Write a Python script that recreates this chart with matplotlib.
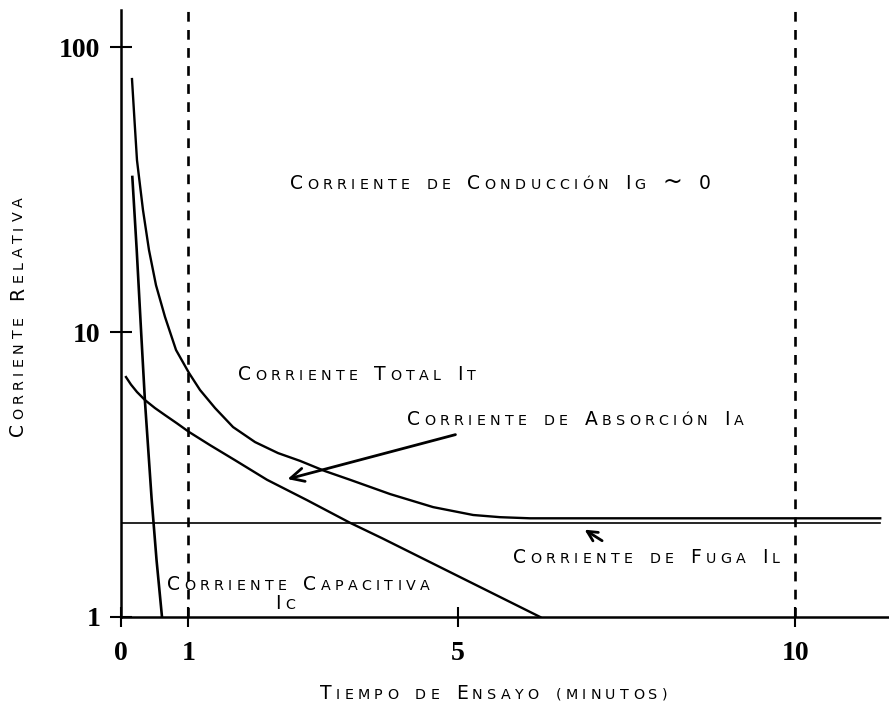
import matplotlib
matplotlib.use("Agg")
import matplotlib.pyplot as plt
from matplotlib.ticker import NullLocator

# curves: time in minutes, relative current (log axis)
t_total = [0.163, 0.200, 0.237, 0.326, 0.415, 0.519, 0.653, 0.816, 1.009, 1.172,
           1.395, 1.662, 1.988, 2.329, 2.656, 3.027, 3.398, 3.991, 4.629, 5.223,
           5.623, 6.068, 6.51, 11.26]
i_total = [77.2, 55.4, 40.1, 26.8, 19.4, 14.6, 11.29, 8.65, 7.18, 6.26,
           5.41, 4.64, 4.11, 3.76, 3.53, 3.25, 3.03, 2.70, 2.43, 2.28,
           2.24, 2.22, 2.22, 2.22]

t_absorb = [0.074, 0.148, 0.237, 0.356, 0.504, 0.653, 0.831, 1.009, 1.320, 1.691,
            2.166, 2.760, 3.398, 3.872, 5.030, 6.217]
i_absorb = [6.95, 6.54, 6.16, 5.77, 5.41, 5.11, 4.78, 4.46, 4.01, 3.55,
            3.03, 2.57, 2.14, 1.89, 1.38, 1.0]

t_capac = [0.168, 0.233, 0.297, 0.356, 0.453, 0.527, 0.608]
i_capac = [35.0, 19.4, 10.16, 5.68, 2.62, 1.585, 1.0]

t_leak = [0.0, 11.26]
i_leak = [2.13, 2.13]

test_marks = [1, 10]
x_ticks = [0, 1, 5, 10]
y_ticks = [1, 10, 100]

plt.rcParams["lines.scale_dashes"] = False

CAP = 13.5     # pt, capital letters
SMALL = 10.3   # pt, small capitals
GAP = 3.1      # pt between letters
SPACE = 9.0    # extra pt for a word space
DESC = 0.23    # descent as a fraction of font size
SYMBOL = {"~": 17}


def small_caps(ax, x, y, s, vertical=False):
    """Draw s in small capitals, one glyph at a time (figure coords)."""
    prev, prev_size, pending = None, None, 0.0
    rot = 90 if vertical else 0
    for ch in s:
        if ch == " ":
            pending += SPACE
            continue
        size = SMALL if (ch.islower() or ch in "()") else SYMBOL.get(ch, CAP)
        glyph = ch.upper()
        if prev is None:
            t = ax.figure.text(x, y, glyph, fontsize=size, rotation=rot,
                               ha="right" if vertical else "left",
                               va="bottom" if vertical else "baseline")
        else:
            d = DESC * (prev_size - size)
            if vertical:
                t = ax.annotate(glyph, xy=(1, 1), xycoords=prev,
                                xytext=(-d, GAP + pending), textcoords="offset points",
                                ha="right", va="bottom", rotation=90, fontsize=size)
            else:
                t = ax.annotate(glyph, xy=(1, 0), xycoords=prev,
                                xytext=(GAP + pending, d), textcoords="offset points",
                                ha="left", va="bottom", fontsize=size)
        prev, prev_size, pending = t, size, 0.0


W, H = 889, 705
fig = plt.figure(figsize=(W / 100, H / 100), dpi=100)
ax = fig.add_axes([121 / W, 1 - 617 / H, (W - 121) / W, (617 - 10) / H])

ax.set_yscale("log")
ax.set_xlim(0, 11.39)
ax.set_ylim(1, 134.9)

ax.plot(t_total, i_total, color="black", lw=1.7)
ax.plot(t_absorb, i_absorb, color="black", lw=1.7)
ax.plot(t_capac, i_capac, color="black", lw=1.9)
ax.plot(t_leak, i_leak, color="black", lw=1.2)
for m in test_marks:
    ax.axvline(m, color="black", lw=1.9, dashes=(7, 6))

for side in ("top", "right"):
    ax.spines[side].set_visible(False)
for side in ("left", "bottom"):
    ax.spines[side].set_linewidth(1.8)

ax.yaxis.set_minor_locator(NullLocator())
ax.set_yticks(y_ticks, labels=[str(v) for v in y_ticks])
ax.set_xticks(x_ticks, labels=[str(v) for v in x_ticks])
ax.tick_params(axis="y", direction="inout", length=16, width=1.5, pad=7)
ax.tick_params(axis="x", direction="inout", length=14, width=1.5, pad=10)
for lab in ax.get_xticklabels() + ax.get_yticklabels():
    lab.set_fontfamily("Liberation Serif")
    lab.set_fontsize(20)
    lab.set_fontweight("bold")

# arrows
ax.annotate("", xy=(2.43, 3.03), xytext=(5.0, 4.39),
            arrowprops=dict(arrowstyle="->", lw=2.0, color="black",
                            mutation_scale=24))
ax.annotate("", xy=(6.84, 2.05), xytext=(7.17, 1.83),
            arrowprops=dict(arrowstyle="->", lw=2.0, color="black",
                            mutation_scale=18))

# labels (left edge, baseline in pixels)
labels = [
    (290, 189, "Corriente de Conducción Ig ~ 0"),
    (238, 380, "Corriente Total It"),
    (407, 425, "Corriente de Absorción Ia"),
    (513, 563, "Corriente de Fuga Il"),
    (167, 590, "Corriente Capacitiva"),
    (275, 609, "Ic"),
    (320, 699, "Tiempo de Ensayo (minutos)"),
]
for px, py, s in labels:
    small_caps(ax, px / W, 1 - py / H, s)
small_caps(ax, 27 / W, 1 - 436 / H, "Corriente Relativa", vertical=True)

fig.savefig("out.png", dpi=100)
